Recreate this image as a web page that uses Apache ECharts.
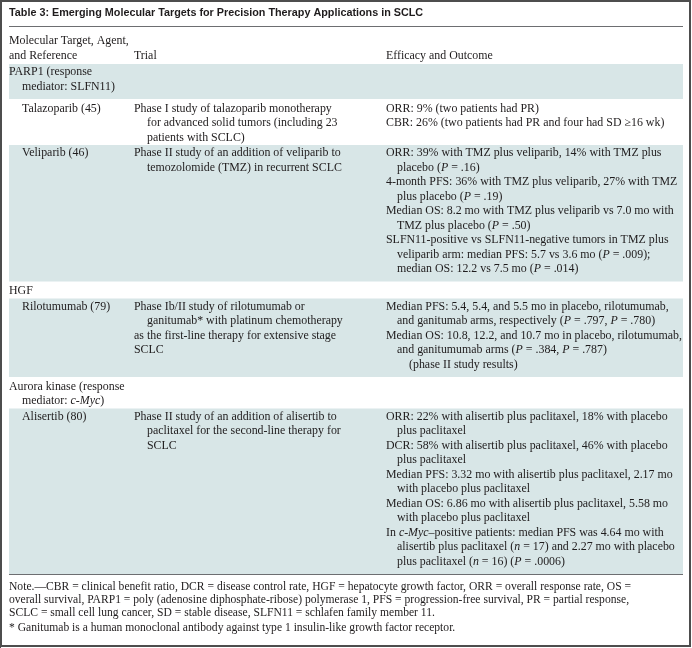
<!DOCTYPE html>
<html>
<head>
<meta charset="utf-8">
<script src="https://cdn.jsdelivr.net/npm/echarts@6/dist/echarts.min.js"></script>
<style>html,body{margin:0;padding:0;background:#fff}#c{width:692px;height:648px}</style>
</head>
<body>
<div id="c"></div>
<script>
const title = "Table 3: Emerging Molecular Targets for Precision Therapy Applications in SCLC";
const headerCol1 = ["Molecular Target, Agent,", "and Reference"];
const headerCol2 = ["", "Trial"];
const headerCol3 = ["", "Efficacy and Outcome"];

const rowKinds = ["group", "agent", "agent", "group", "agent", "group", "agent"];

const col1 = [
  ["PARP1 (response", "mediator: SLFN11)"],
  ["Talazoparib (45)"],
  ["Veliparib (46)"],
  ["HGF"],
  ["Rilotumumab (79)"],
  ["Aurora kinase (response", "mediator: {i|c-Myc})"],
  ["Alisertib (80)"]
];

const col2 = [
  [],
  ["Phase I study of talazoparib monotherapy", "for advanced solid tumors (including 23", "patients with SCLC)"],
  ["Phase II study of an addition of veliparib to", "temozolomide (TMZ) in recurrent SCLC"],
  [],
  ["Phase Ib/II study of rilotumumab or", "ganitumab* with platinum chemotherapy", "<as the first-line therapy for extensive stage", "<SCLC"],
  [],
  ["Phase II study of an addition of alisertib to", "paclitaxel for the second-line therapy for", "SCLC"]
];

const col3 = [
  [],
  [["ORR: 9% (two patients had PR)"],
   ["CBR: 26% (two patients had PR and four had SD \u226516 wk)"]],
  [["ORR: 39% with TMZ plus veliparib, 14% with TMZ plus", "placebo ({i|P} = .16)"],
   ["4-month PFS: 36% with TMZ plus veliparib, 27% with TMZ", "plus placebo ({i|P} = .19)"],
   ["Median OS: 8.2 mo with TMZ plus veliparib vs 7.0 mo with", "TMZ plus placebo ({i|P} = .50)"],
   ["SLFN11-positive vs SLFN11-negative tumors in TMZ plus", "veliparib arm: median PFS: 5.7 vs 3.6 mo ({i|P} = .009);", "median OS: 12.2 vs 7.5 mo ({i|P} = .014)"]],
  [],
  [["Median PFS: 5.4, 5.4, and 5.5 mo in placebo, rilotumumab,", "and ganitumab arms, respectively ({i|P} = .797, {i|P} = .780)"],
   ["Median OS: 10.8, 12.2, and 10.7 mo in placebo, rilotumumab,", "and ganitumumab arms ({i|P} = .384, {i|P} = .787)", ">(phase II study results)"]],
  [],
  [["ORR: 22% with alisertib plus paclitaxel, 18% with placebo", "plus paclitaxel"],
   ["DCR: 58% with alisertib plus paclitaxel, 46% with placebo", "plus paclitaxel"],
   ["Median PFS: 3.32 mo with alisertib plus paclitaxel, 2.17 mo", "with placebo plus paclitaxel"],
   ["Median OS: 6.86 mo with alisertib plus paclitaxel, 5.58 mo", "with placebo plus paclitaxel"],
   ["In {i|c-Myc}\u2013positive patients: median PFS was 4.64 mo with", "alisertib plus paclitaxel ({i|n} = 17) and 2.27 mo with placebo", "plus paclitaxel ({i|n} = 16) ({i|P} = .0006)"]]
];

const notes = [
  "Note.\u2014CBR = clinical benefit ratio, DCR = disease control rate, HGF = hepatocyte growth factor, ORR = overall response rate, OS =",
  "overall survival, PARP1 = poly (adenosine diphosphate-ribose) polymerase 1, PFS = progression-free survival, PR = partial response,",
  "SCLC = small cell lung cancer, SD = stable disease, SLFN11 = schlafen family member 11."
];
const footnote = "* Ganitumab is a human monoclonal antibody against type 1 insulin-like growth factor receptor.";

// ---- layout / style ----
const SERIF = "Liberation Serif";
const FS = 11.9;
const TXT = "#1f1c1d";
const SHADE = "#d8e6e7";
const LH = 14.5;
const PAD = { shaded: [1, 5], white: [2.5, 0] };
const X0 = 9, X1 = 683;
const C1 = 9, C1A = 22, C2 = 134, C2I = 147, C3 = 386, C3I = 397, C3II = 409;

const rich = { i: { fontStyle: 'italic', fontFamily: SERIF, fontSize: FS, fill: TXT } };
const els = [];
function txt(s, x, y, opt) {
  els.push({ type: 'text', x: x, y: y, silent: true,
    style: Object.assign({ text: s, fontFamily: SERIF, fontSize: FS, fill: TXT,
      verticalAlign: 'middle', align: 'left', rich: rich }, opt || {}) });
}
function line(y, x0, x1, color, w) {
  els.push({ type: 'line', silent: true, shape: { x1: x0, y1: y, x2: x1, y2: y },
    style: { stroke: color, lineWidth: w } });
}

// outer border
els.push({ type: 'rect', silent: true, shape: { x: 1, y: 1, width: 689, height: 645 },
  style: { fill: 'none', stroke: '#4d4d4d', lineWidth: 2 } });
els.push({ type: 'line', silent: true, shape: { x1: 0.5, y1: 0, x2: 0.5, y2: 648 },
  style: { stroke: '#4d4d4d', lineWidth: 1 } });

txt(title, X0, 13, { fontFamily: 'Liberation Sans', fontWeight: 'bold', fontSize: 10.8, rich: {} });
line(26.5, X0, X1, '#6d6e71', 1);

// header
headerCol1.forEach((s, k) => txt(s, C1, 41 + k * LH));
headerCol2.forEach((s, k) => s && txt(s, C2, 41 + k * LH));
headerCol3.forEach((s, k) => s && txt(s, C3, 41 + k * LH));

let y = 64;
const shapes = [];
const texts = [];
rowKinds.forEach((kind, i) => {
  const shaded = i % 2 === 0;
  const pad = shaded ? PAD.shaded : PAD.white;
  const top = y;
  const first = top + pad[0] + LH / 2;
  const n1 = col1[i].length, n2 = col2[i].length;
  let n3 = 0; col3[i].forEach(it => n3 += it.length);
  const h = Math.max(n1, n2, n3) * LH + pad[0] + pad[1];
  if (shaded) shapes.push({ type: 'rect', silent: true, z: -1,
    shape: { x: X0, y: top, width: X1 - X0, height: h }, style: { fill: SHADE } });
  col1[i].forEach((s, k) => {
    const base = kind === 'group' ? C1 : C1A;
    texts.push([s, k === 0 ? base : base + 13, first + k * LH]);
  });
  col2[i].forEach((s, k) => {
    let x = k === 0 ? C2 : C2I;
    if (s[0] === '<') { s = s.slice(1); x = C2; }
    texts.push([s, x, first + k * LH]);
  });
  let yy = first;
  col3[i].forEach(item => {
    item.forEach((s, k) => {
      let x = k === 0 ? C3 : C3I;
      if (s[0] === '>') { s = s.slice(1); x = C3II; }
      texts.push([s, x, yy]);
      yy += LH;
    });
  });
  y = top + h;
});
shapes.forEach(s => els.push(s));
texts.forEach(t => txt(t[0], t[1], t[2]));

const tableBottom = y;
line(tableBottom + 0.5, X0, X1, '#6d6e71', 1);

const NFS = 11.6;
const nrich = { i: { fontStyle: 'italic', fontFamily: SERIF, fontSize: NFS, fill: TXT } };
notes.forEach((s, k) => txt(s, X0, tableBottom + 12.5 + k * 13.2, { fontSize: NFS, rich: nrich }));
txt(footnote, X0, tableBottom + 12.5 + 3 * 13.2 + 1.5, { fontSize: NFS, rich: nrich });

const chart = echarts.init(document.getElementById('c'), null, { renderer: 'canvas' });
chart.setOption({ animation: false, backgroundColor: '#fff', graphic: { elements: els } });
</script>
</body>
</html>
